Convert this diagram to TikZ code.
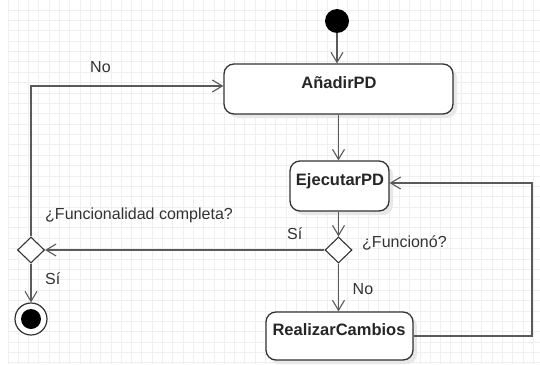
\documentclass[tikz,border=0pt]{standalone}
\usepackage{fontspec}
\setmainfont{Liberation Sans}
\usetikzlibrary{arrows.meta,shapes.geometric,shadows}
\definecolor{gridc}{HTML}{EFEFEF}
\definecolor{linec}{HTML}{5A5A5A}
\definecolor{borderc}{HTML}{333333}
\tikzset{
  gridline/.style={draw=gridc, line width=1pt},
  actbox/.style={draw=borderc, line width=1.3pt, fill=white, rounded corners=10pt,
    inner sep=0pt, drop shadow={shadow xshift=4pt, shadow yshift=-4pt, fill=black!9, opacity=1}},
  boxtext/.style={font=\fontsize{16.5}{19}\selectfont\bfseries, text=black!85, inner sep=0pt},
  guard/.style={font=\fontsize{16}{19}\selectfont, text=black!80, inner sep=0pt},
  decision/.style={diamond, draw=borderc, line width=1.1pt, fill=white, aspect=1,
    minimum width=27pt, minimum height=26pt, inner sep=0pt},
  flow/.style={draw=linec, line width=1.3pt,
    -{Straight Barb[length=10pt, width=12pt, line width=1.1pt]}},
}
\begin{document}
\begin{tikzpicture}[x=1pt, y=-1pt]
\useasboundingbox (0,0) rectangle (540,364);
\fill[white] (0,0) rectangle (540,364);
% background grid
\foreach \i in {0,...,52} \draw[gridline] (8+\i*10.3,0) -- (8+\i*10.3,364);
\foreach \j in {0,...,34} \draw[gridline] (8,10+\j*10.38) -- (540,10+\j*10.38);

% start and end states
\node[circle, fill=black, minimum size=24pt, inner sep=0pt] (init) at (337,21) {};
\node[circle, draw=borderc, line width=1.2pt, fill=white, minimum size=32pt, inner sep=0pt] (final) at (31,319) {};
\node[circle, fill=black, minimum size=20pt, inner sep=0pt] (finalIn) at (final) {};

% actions
\node[actbox, minimum width=229pt, minimum height=50pt] (anadir) at (338.5,89) {};
\node[boxtext, anchor=base] (anadirT) at (339,88) {AñadirPD};
\node[actbox, minimum width=99pt, minimum height=50pt] (ejec) at (339.5,186) {};
\node[boxtext, anchor=base] (ejecT) at (340,185) {EjecutarPD};
\node[actbox, minimum width=147pt, minimum height=48pt] (cambios) at (339.5,336) {};
\node[boxtext, anchor=base] (cambiosT) at (339,335) {RealizarCambios};

% decisions
\node[decision] (dfunc) at (338.5,250) {};
\node[decision] (dcomp) at (31,250) {};

% bends
\coordinate (loopR) at (532,183);
\coordinate (loopL) at (31,86);

% connectors
\draw[flow] (init) -- (init |- anadir.north);
\draw[flow] (anadir.south -| dfunc) -- (dfunc |- ejec.north);
\draw[flow] (dfunc |- ejec.south) -- (dfunc.north);
\draw[flow] (dfunc.south) -- (dfunc |- cambios.north);
\draw[flow] (cambios.east) -| (loopR) -- (loopR -| ejec.east);
\draw[flow] (dfunc.west) -- (dcomp.east);
\draw[flow] (dcomp.south) -- (final.north);
\draw[flow] (dcomp.north) -- (loopL) -- (loopL -| anadir.west);

% guards
\node[guard, anchor=base west] (gNo1) at (90,72) {No};
\node[guard, anchor=base west] (gComp) at (45,219) {¿Funcionalidad completa?};
\node[guard, anchor=base west] (gSi1) at (287,239) {Sí};
\node[guard, anchor=base west] (gFunc) at (362,247) {¿Funcionó?};
\node[guard, anchor=base west] (gNo2) at (352.5,294) {No};
\node[guard, anchor=base west] (gSi2) at (45,284) {Sí};
\end{tikzpicture}
\end{document}
